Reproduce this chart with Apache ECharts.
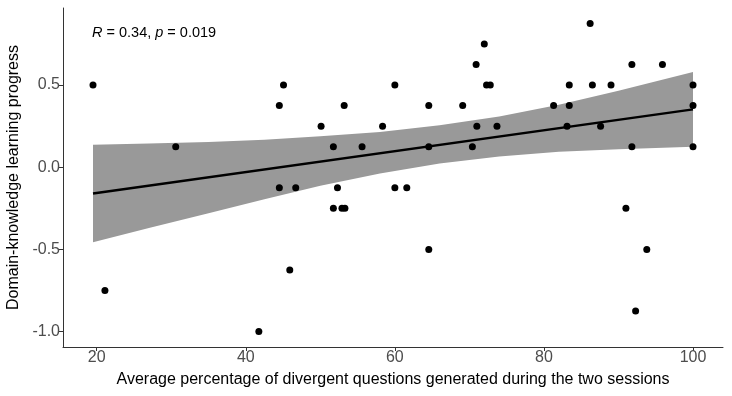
<!DOCTYPE html>
<html>
<head>
<meta charset="utf-8">
<script src="https://cdn.jsdelivr.net/npm/echarts@6/dist/echarts.min.js"></script>
<style>
html,body{margin:0;padding:0;background:#fff;}
#chart{width:732px;height:396px;}
</style>
</head>
<body>
<div id="chart"></div>
<script>
// Scatter data: average % divergent questions (x) vs learning progress (y)
var pointX = [19.5, 21.1, 30.6, 41.75, 44.5, 45.06, 44.5, 45.9, 46.7, 50.1,
              51.75, 51.75, 52.3, 52.9, 53.3, 53.2, 55.6, 58.35, 60, 60,
              61.6, 64.55, 64.55, 64.55, 69.1, 70.4, 71.0, 70.9, 72.0, 72.3,
              72.8, 73.7, 81.3, 83.4, 83.4, 83.1, 86.2, 86.5, 87.6, 89.0,
              91.8, 91.8, 95.9, 100, 100, 100, 91.0, 93.8, 92.3];
var pointY = [0.5, -0.75, 0.125, -1.0, 0.375, 0.5, -0.125, -0.625, -0.125, 0.25,
              0.125, -0.25, -0.125, -0.25, -0.25, 0.375, 0.125, 0.25, 0.5, -0.125,
              -0.125, 0.375, 0.125, -0.5, 0.375, 0.125, 0.25, 0.625, 0.75, 0.5,
              0.5, 0.25, 0.375, 0.5, 0.375, 0.25, 0.875, 0.5, 0.25, 0.5,
              0.625, 0.125, 0.625, 0.5, 0.375, 0.125, -0.25, -0.5, -0.875];

// Fitted regression line
var fitX = [19.5, 100];
var fitY = [-0.160, 0.352];

// Confidence band
var bandX  = [19.5, 27, 35, 42.5, 50, 58, 66, 74, 82, 90, 100];
var bandLo = [-0.457, -0.370, -0.280, -0.195, -0.112, -0.038, 0.022, 0.065, 0.094, 0.110, 0.124];
var bandHi = [0.137, 0.144, 0.153, 0.167, 0.188, 0.215, 0.256, 0.308, 0.380, 0.466, 0.580];

var xTicks = [20, 40, 60, 80, 100];
var yTicks = [-1.0, -0.5, 0.0, 0.5];

var FONT = "'Liberation Sans', Arial, Helvetica, sans-serif";

var chart = echarts.init(document.getElementById('chart'), null, {renderer: 'canvas'});

var scatterData = pointX.map(function (x, i) { return [x, pointY[i]]; });
var fitData = fitX.map(function (x, i) { return [x, fitY[i]]; });
var bandData = bandX.map(function (x, i) { return [x, bandLo[i], bandHi[i]]; });

var axisLineStyle = {color: '#333333', width: 1};

chart.setOption({
  animation: false,
  backgroundColor: '#ffffff',
  grid: {left: 63, right: 9, top: 8, bottom: 49, containLabel: false, outerBoundsMode: 'none'},
  xAxis: {
    type: 'value',
    min: 15.475,
    max: 104.025,
    splitLine: {show: false},
    axisLine: {show: true, onZero: false, lineStyle: axisLineStyle},
    axisTick: {show: true, length: 4, lineStyle: axisLineStyle, customValues: xTicks},
    axisLabel: {color: '#4d4d4d', fontSize: 16, fontFamily: FONT, margin: 3, customValues: xTicks,
                formatter: function (v) { return String(Math.round(v)); }},
    name: 'Average percentage of divergent questions generated during the two sessions',
    nameLocation: 'middle',
    nameGap: 25,
    nameTextStyle: {color: '#000', fontSize: 16, fontFamily: FONT}
  },
  yAxis: {
    type: 'value',
    min: -1.09375,
    max: 0.96875,
    splitLine: {show: false},
    axisLine: {show: true, onZero: false, lineStyle: axisLineStyle},
    axisTick: {show: true, length: 4, lineStyle: axisLineStyle, customValues: yTicks},
    axisLabel: {color: '#4d4d4d', fontSize: 16, fontFamily: FONT, margin: 3, customValues: yTicks,
                formatter: function (v) { return v.toFixed(1); }},
    name: 'Domain-knowledge learning progress',
    nameLocation: 'middle',
    nameGap: 41,
    nameTextStyle: {color: '#000', fontSize: 16, fontFamily: FONT}
  },
  graphic: [{
    type: 'text',
    left: 92,
    top: 25,
    style: {
      text: '{i|R} = 0.34, {i|p} = 0.019',
      fill: '#000',
      font: '14.5px ' + FONT,
      rich: {i: {fontStyle: 'italic', fontSize: 14.5, fontFamily: FONT, fill: '#000'}}
    }
  }],
  series: [
    {
      type: 'custom',
      data: bandData,
      silent: true,
      z: 1,
      renderItem: function (params, api) {
        if (params.dataIndex !== 0) return null;
        var pts = [];
        for (var i = 0; i < bandX.length; i++) pts.push(api.coord([bandX[i], bandHi[i]]));
        for (var j = bandX.length - 1; j >= 0; j--) pts.push(api.coord([bandX[j], bandLo[j]]));
        return {type: 'polygon', shape: {points: pts}, style: {fill: '#999999', stroke: null}};
      }
    },
    {
      type: 'line',
      data: fitData,
      showSymbol: false,
      symbol: 'none',
      z: 2,
      lineStyle: {color: '#000', width: 2.5}
    },
    {
      type: 'scatter',
      data: scatterData,
      symbol: 'circle',
      symbolSize: 7,
      z: 3,
      itemStyle: {color: '#000', opacity: 1}
    }
  ]
});
</script>
</body>
</html>
